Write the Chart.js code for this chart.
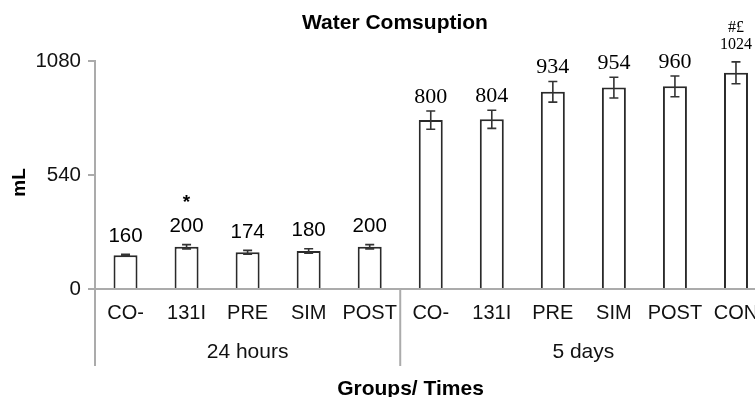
<!DOCTYPE html>
<html><head><meta charset="utf-8">
<script src="https://cdn.jsdelivr.net/npm/chart.js@4"></script>
<style>html,body{margin:0;padding:0;overflow:hidden;background:#fff;width:755px;height:397px}canvas{display:block}</style>
</head><body>
<canvas id="c" width="776" height="397"></canvas>
<script>
const chartTitle = 'Water Comsuption';
const xTitle = 'Groups/ Times';
const yTitle = 'mL';
const categories = ['CO-', '131I', 'PRE', 'SIM', 'POST', 'CO-', '131I', 'PRE', 'SIM', 'POST', 'CON'];
const values = [160, 200, 174, 180, 200, 800, 804, 934, 954, 960, 1024];
const errors = [4, 10, 9, 11, 10, 43, 43, 49, 49, 49, 52];
const valueLabels = ['160', '200', '174', '180', '200', '800', '804', '934', '954', '960', '1024'];
const marks = ['', '*', '', '', '', '', '', '', '', '', '#£'];
const groups = ['24 hours', '5 days'];
const groupSizes = [5, 6];
const yTicks = [0, 540, 1080];

const SANS = '"Liberation Sans", Arial, sans-serif';
const SERIF = '"Liberation Serif", "Times New Roman", serif';
const GREY = '#ababab';
const INK = '#111';

function groupOf(i) {
  let acc = 0;
  for (let g = 0; g < groupSizes.length; g++) { acc += groupSizes[g]; if (i < acc) return g; }
  return groupSizes.length - 1;
}

const annotate = {
  id: 'annotate',
  afterDatasetsDraw(chart) {
    const {ctx, scales: {x, y}} = chart;
    ctx.save();
    values.forEach((v, i) => {
      const px = x.getPixelForValue(i);
      const top = y.getPixelForValue(v + errors[i]);
      const bot = y.getPixelForValue(v - errors[i]);
      ctx.strokeStyle = '#333';
      ctx.lineWidth = 1.6;
      ctx.beginPath();
      ctx.moveTo(px, top); ctx.lineTo(px, bot);
      ctx.moveTo(px - 4.5, top); ctx.lineTo(px + 4.5, top);
      ctx.moveTo(px - 4.5, bot); ctx.lineTo(px + 4.5, bot);
      ctx.stroke();
      const g = groupOf(i);
      const small = valueLabels[i].length > 3;
      let font, off, markFont, markOff;
      if (g === 0) { font = '20.5px ' + SANS; off = 18; markFont = 'bold 19px ' + SANS; markOff = 24; }
      else if (small) { font = '16px ' + SERIF; off = 17; markFont = '16px ' + SERIF; markOff = 17.5; }
      else { font = '22px ' + SERIF; off = 14; markFont = '16px ' + SERIF; markOff = 20; }
      ctx.fillStyle = '#000';
      ctx.textAlign = 'center';
      ctx.textBaseline = 'middle';
      ctx.font = font;
      ctx.fillText(valueLabels[i], px, top - off);
      if (marks[i]) { ctx.font = markFont; ctx.fillText(marks[i], px, top - off - markOff); }
    });
    ctx.restore();
  },
  afterDraw(chart) {
    const {ctx, scales: {x, y}} = chart;
    ctx.save();
    let start = 0;
    ctx.strokeStyle = GREY;
    ctx.lineWidth = 2;
    ctx.fillStyle = INK;
    ctx.font = '21px ' + SANS;
    ctx.textAlign = 'center';
    ctx.textBaseline = 'middle';
    groups.forEach((name, g) => {
      const end = start + groupSizes[g] - 1;
      const bx = start === 0 ? x.left : (x.getPixelForValue(start - 1) + x.getPixelForValue(start)) / 2;
      ctx.beginPath();
      ctx.moveTo(bx, y.bottom - 1);
      ctx.lineTo(bx, 366);
      ctx.stroke();
      const cx = (x.getPixelForValue(start) + x.getPixelForValue(end)) / 2;
      ctx.fillText(name, cx, 352);
      start = end + 1;
    });
    ctx.fillStyle = '#000';
    ctx.font = 'bold 21px ' + SANS;
    ctx.textBaseline = 'alphabetic';
    ctx.fillText(xTitle, 410.5, 395);
    ctx.translate(20, 182.5);
    ctx.rotate(-Math.PI / 2);
    ctx.font = 'bold 19px ' + SANS;
    ctx.textBaseline = 'middle';
    ctx.fillText(yTitle, 0, 0);
    ctx.restore();
  }
};

new Chart(document.getElementById('c'), {
  type: 'bar',
  data: {
    labels: categories,
    datasets: [{
      data: values,
      backgroundColor: '#ffffff',
      borderColor: '#2a2a2a',
      borderWidth: 2,
      borderSkipped: 'bottom',
      barPercentage: 0.393,
      categoryPercentage: 1
    }]
  },
  options: {
    responsive: false,
    animation: false,
    layout: {padding: {left: 23.5, right: 9.5, top: 0, bottom: 0}},
    plugins: {
      legend: {display: false},
      tooltip: {enabled: false},
      title: {
        display: true,
        text: chartTitle,
        color: '#000',
        font: {family: SANS, size: 21, weight: 'bold'},
        padding: {top: 10.4, bottom: 25.4}
      }
    },
    scales: {
      x: {
        ticks: {font: {family: SANS, size: 20}, color: INK, padding: 0, autoSkip: false, maxRotation: 0, minRotation: 0},
        grid: {display: true, drawOnChartArea: false, drawTicks: true, tickLength: 12, tickColor: 'rgba(0,0,0,0)'},
        border: {color: GREY, width: 2},
        afterFit(s) { s.height = 108; }
      },
      y: {
        min: 0,
        max: 1080,
        afterBuildTicks(s) { s.ticks = yTicks.map(v => ({value: v})); },
        ticks: {font: {family: SANS, size: 20.5}, color: INK, padding: 7, callback: v => String(v)},
        grid: {drawOnChartArea: false, drawTicks: true, tickLength: 7, tickColor: GREY, lineWidth: 2},
        border: {color: GREY, width: 2},
        afterFit(s) { s.width = 71.5; }
      }
    }
  },
  plugins: [annotate]
});
</script>
</body></html>
